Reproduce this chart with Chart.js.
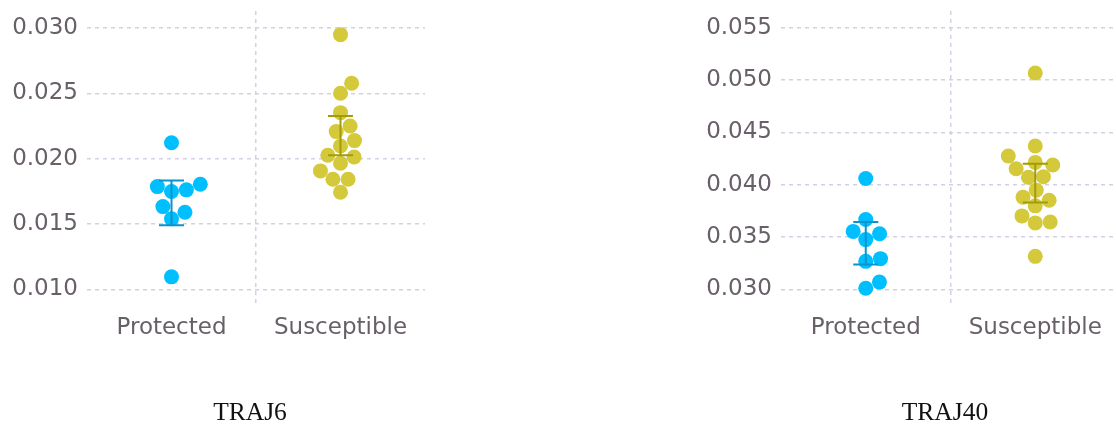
<!DOCTYPE html>
<html>
<head>
<meta charset="utf-8">
<script src="https://cdn.jsdelivr.net/npm/chart.js@4/dist/chart.umd.min.js"></script>
<style>
  html, body { margin: 0; padding: 0; background: #fff; }
  body { width: 1116px; height: 427px; overflow: hidden; position: relative; }
  canvas { position: absolute; top: 0; }
  #traj6 { left: 0; }
  #traj40 { left: 693px; }
</style>
</head>
<body>
<canvas id="traj6" width="500" height="427"></canvas>
<canvas id="traj40" width="504" height="427"></canvas>
<script>
// groups along the x axis
const groups = ['Protected', 'Susceptible'];

// TRAJ6 values per animal
const traj6Protected = [0.02122, 0.01804, 0.01786, 0.01761, 0.01748, 0.01633, 0.01590, 0.01539, 0.01095];
const traj6Susceptible = [0.02949, 0.02577, 0.02500, 0.02352, 0.02250, 0.02207, 0.02138, 0.02097,
                          0.02026, 0.02013, 0.01965, 0.01906, 0.01842, 0.01842, 0.01743];
// mean 95% CI (low / high) per group
const traj6CiLow = [0.01491, 0.02026];
const traj6CiHigh = [0.01832, 0.02327];
const traj6Ticks = [0.010, 0.015, 0.020, 0.025, 0.030];

// TRAJ40 values per animal
const traj40Protected = [0.04059, 0.03668, 0.03554, 0.03532, 0.03476, 0.03294, 0.03268, 0.03070, 0.03012];
const traj40Susceptible = [0.05066, 0.04370, 0.04274, 0.04213, 0.04188, 0.04152, 0.04076, 0.04070,
                           0.03948, 0.03881, 0.03852, 0.03798, 0.03702, 0.03644, 0.03635, 0.03316];
const traj40CiLow = [0.03239, 0.03830];
const traj40CiHigh = [0.03644, 0.04200];
const traj40Ticks = [0.030, 0.035, 0.040, 0.045, 0.050, 0.055];

const dotColors = ['#00bfff', '#d4c93a'];
const barColors = ['#0a93cc', '#a39c0a'];
const gridColor = '#d3d0e2';
const tickColor = '#685f69';
const DOT_R = 7.5;

// mean +/- CI bars, drawn over the dots
const errorBarsPlugin = {
    id: 'errorBars',
    afterDatasetsDraw(chart, args, opts) {
        const {ctx, scales: {x, y}} = chart;
        ctx.save();
        ctx.lineWidth = 2;
        opts.low.forEach((lo, i) => {
            const px = x.getPixelForValue(i);
            const top = y.getPixelForValue(opts.high[i]);
            const bot = y.getPixelForValue(lo);
            ctx.strokeStyle = opts.colors[i];
            ctx.beginPath();
            ctx.moveTo(px, top); ctx.lineTo(px, bot);
            ctx.moveTo(px - 12.5, top); ctx.lineTo(px + 12.5, top);
            ctx.moveTo(px - 12.5, bot); ctx.lineTo(px + 12.5, bot);
            ctx.stroke();
        });
        ctx.restore();
    }
};

// swarm layout: place points from lowest value up, each as close to the
// group centre as it can go without overlapping dots already placed
function swarm(values, yScale, diameter) {
    const pts = values.map((v, i) => ({i, py: yScale.getPixelForValue(v), dx: 0}));
    const order = pts.slice().sort((a, b) => b.py - a.py);
    const placed = [];
    const d2 = diameter * diameter;
    for (const p of order) {
        const near = placed.filter(q => Math.abs(q.py - p.py) < diameter).reverse();
        const cands = [0];
        let rightFirst = true;
        near.forEach(q => {
            const dy = p.py - q.py;
            const d = Math.sqrt(Math.max(d2 - dy * dy, 0));
            if (rightFirst) cands.push(q.dx + d, q.dx - d);
            else cands.push(q.dx - d, q.dx + d);
            rightFirst = !rightFirst;
        });
        const sorted = cands.map((c, k) => ({c, k}))
            .sort((a, b) => Math.abs(a.c) - Math.abs(b.c) || a.k - b.k);
        let chosen = sorted[0].c;
        for (const {c} of sorted) {
            const ok = near.every(q => (c - q.dx) ** 2 + (p.py - q.py) ** 2 >= d2 - 1e-6);
            if (ok) { chosen = c; break; }
        }
        p.dx = chosen;
        placed.push(p);
    }
    return pts.map(p => p.dx);
}

// keep tick labels from pushing the plot area around
function noLabelPadding(s) {
    s.paddingTop = 0; s.paddingBottom = 0; s.paddingLeft = 0; s.paddingRight = 0;
}

// spacerWidth: empty right-hand axis, so the full-width title sits a bit
// left of the plot centre
function makePanel(canvasId, title, protectedVals, susceptibleVals, ciLow, ciHigh, yTicks, yMin, yMax, yWidth, spacerWidth) {
    const series = [protectedVals, susceptibleVals];
    const chart = new Chart(document.getElementById(canvasId), {
        type: 'scatter',
        data: {
            datasets: series.map((vals, g) => ({
                label: groups[g],
                data: vals.map(v => ({x: g, y: v})),
                backgroundColor: dotColors[g],
                borderWidth: 0,
                pointRadius: DOT_R,
                pointHoverRadius: DOT_R
            }))
        },
        options: {
            responsive: false,
            animation: false,
            events: [],
            layout: { padding: { left: 0, right: 0, top: 11, bottom: 0 } },
            plugins: {
                legend: { display: false },
                tooltip: { enabled: false },
                title: {
                    display: true,
                    text: title,
                    position: 'bottom',
                    color: '#111',
                    font: { family: "'Liberation Serif', serif", size: 25.5, weight: 'normal', lineHeight: 1 },
                    padding: { top: 0, bottom: 1 }
                },
                errorBars: { low: ciLow, high: ciHigh, colors: barColors }
            },
            scales: {
                x: {
                    type: 'linear',
                    min: -0.5,
                    max: 1.5,
                    afterBuildTicks: s => { s.ticks = [0, 0.5, 1].map(v => ({value: v})); },
                    afterFit: s => { s.height = 94.5; noLabelPadding(s); },
                    grid: {
                        drawTicks: false,
                        lineWidth: 1.5,
                        color: c => (c.tick && c.tick.value === 0.5) ? gridColor : 'rgba(0,0,0,0)'
                    },
                    border: { display: false, dash: [4, 4] },
                    ticks: {
                        autoSkip: false,
                        maxRotation: 0,
                        padding: 8,
                        color: tickColor,
                        font: { family: "'DejaVu Sans', sans-serif", size: 23 },
                        callback: v => Number.isInteger(v) ? groups[v] : ''
                    }
                },
                y: {
                    min: yMin,
                    max: yMax,
                    afterBuildTicks: s => { s.ticks = yTicks.map(v => ({value: v})); },
                    afterFit: s => { s.width = yWidth; noLabelPadding(s); },
                    grid: { drawTicks: false, lineWidth: 1.5, color: gridColor },
                    border: { display: false, dash: [4, 4] },
                    ticks: {
                        padding: 9,
                        color: tickColor,
                        font: { family: "'DejaVu Sans', sans-serif", size: 23 },
                        callback: v => v.toFixed(3)
                    }
                },
                spacer: {
                    type: 'linear',
                    position: 'right',
                    afterFit: s => { s.width = spacerWidth; noLabelPadding(s); },
                    grid: { display: false, drawTicks: false },
                    border: { display: false },
                    ticks: { display: false }
                }
            }
        },
        plugins: [errorBarsPlugin]
    });

    // spread each group into a swarm now that the scales are laid out
    const pxPerUnit = chart.scales.x.width / 2;
    series.forEach((vals, g) => {
        const offsets = swarm(vals, chart.scales.y, DOT_R * 2);
        chart.data.datasets[g].data = vals.map((v, k) => ({x: g + offsets[k] / pxPerUnit, y: v}));
    });
    chart.update('none');
    return chart;
}

makePanel('traj6', 'TRAJ6', traj6Protected, traj6Susceptible, traj6CiLow, traj6CiHigh,
          traj6Ticks, 0.00872, 0.03130, 87, 75);
makePanel('traj40', 'TRAJ40', traj40Protected, traj40Susceptible, traj40CiLow, traj40CiHigh,
          traj40Ticks, 0.02842, 0.05658, 88, 77);
</script>
</body>
</html>
